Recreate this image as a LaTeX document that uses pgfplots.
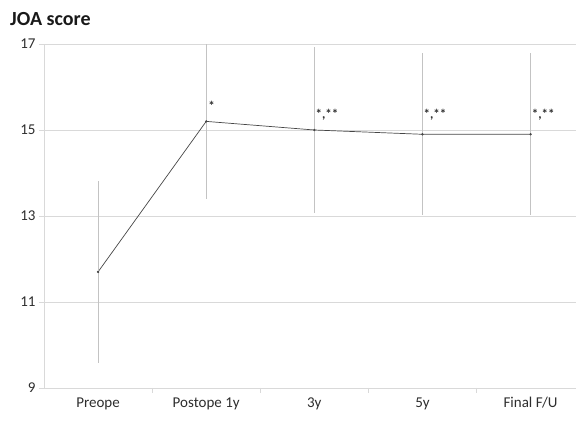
\documentclass[border=0pt]{standalone}
\usepackage{pgfplots}
\pgfplotsset{compat=1.18}
\usepackage{fontspec}
\setmainfont{Carlito}
\definecolor{gridc}{RGB}{217,217,217}
\definecolor{errc}{RGB}{195,195,195}
\definecolor{linec}{RGB}{70,70,70}
\definecolor{txtc}{RGB}{45,45,45}
\begin{document}
\begin{tikzpicture}
\begin{axis}[
  scale only axis, width=532pt, height=344pt,
  xmin=-0.5, xmax=4.42, ymin=9, ymax=17,
  ytick={9,11,13,15,17},
  xtick={0,1,2,3,4},
  xticklabels={Preope, Postope 1y, 3y, 5y, Final F/U},
  xtick style={draw=none},
  axis x line*=bottom, axis y line*=left,
  axis line style={gridc, line width=0.8pt, -},
  ymajorgrids, grid style={gridc, line width=0.8pt},
  tick align=outside, major tick length=5pt,
  ytick style={gridc, line width=0.8pt},
  /pgf/number format/assume math mode=true,
  tick label style={font=\fontsize{15}{17}\selectfont, text=txtc},
  xticklabel style={yshift=-1pt},
  clip=false,
]
\addplot[linec, line width=0.7pt, mark=*, mark size=0.8pt,
  error bars/.cd, y dir=both, y explicit, error mark=none,
  error bar style={errc, line width=0.9pt}]
  table[x=x, y=y, y error=e] {
x y e
0 11.7 2.11
1 15.2 1.80
2 15.0 1.92
3 14.9 1.88
4 14.9 1.88
};
\node[anchor=south west, font=\bfseries\fontsize{13}{14}\selectfont, text=txtc, inner sep=0pt] at (axis cs:1,15.2) [xshift=2pt, yshift=11pt] {*};
\node[anchor=south west, font=\bfseries\fontsize{13}{14}\selectfont, text=txtc, inner sep=0pt] at (axis cs:2,15.0) [xshift=1pt, yshift=10pt] {*,**};
\node[anchor=south west, font=\bfseries\fontsize{13}{14}\selectfont, text=txtc, inner sep=0pt] at (axis cs:3,14.9) [xshift=1pt, yshift=14pt] {*,**};
\node[anchor=south west, font=\bfseries\fontsize{13}{14}\selectfont, text=txtc, inner sep=0pt] at (axis cs:4,14.9) [xshift=1pt, yshift=14pt] {*,**};
\draw[gridc, line width=0.8pt] (axis cs:0.5,9) -- ([yshift=-5pt]axis cs:0.5,9);
\draw[gridc, line width=0.8pt] (axis cs:1.5,9) -- ([yshift=-5pt]axis cs:1.5,9);
\draw[gridc, line width=0.8pt] (axis cs:2.5,9) -- ([yshift=-5pt]axis cs:2.5,9);
\draw[gridc, line width=0.8pt] (axis cs:3.5,9) -- ([yshift=-5pt]axis cs:3.5,9);
\node[anchor=west, font=\bfseries\fontsize{20}{22}\selectfont, text=black!90, inner sep=0pt] at (rel axis cs:0,1) [xshift=-34pt, yshift=25pt] {JOA score};
\path ([shift={(-44pt,-33pt)}]rel axis cs:0,0) rectangle ([shift={(5pt,44pt)}]rel axis cs:1,1);
\end{axis}
\end{tikzpicture}
\end{document}
